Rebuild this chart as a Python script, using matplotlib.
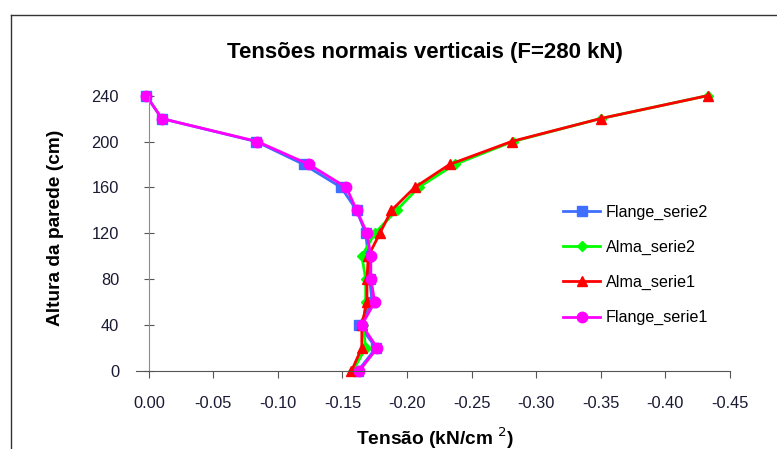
import matplotlib
matplotlib.use("Agg")
import matplotlib.pyplot as plt
from matplotlib.lines import Line2D

plt.rcParams['font.family'] = ['Liberation Sans', 'DejaVu Sans']

# wall height (cm)
altura = [0, 20, 40, 60, 80, 100, 120, 140, 160, 180, 200, 220, 240]

# vertical normal stresses (kN/cm2)
flange_serie2 = [-0.162, -0.176, -0.163, -0.173, -0.171, -0.170, -0.168,
                 -0.161, -0.149, -0.120, -0.083, -0.010, 0.002]
alma_serie2 = [-0.158, -0.168, -0.166, -0.168, -0.168, -0.165, -0.175,
               -0.192, -0.209, -0.237, -0.282, -0.350, -0.433]
alma_serie1 = [-0.157, -0.165, -0.165, -0.169, -0.169, -0.170, -0.179,
               -0.188, -0.206, -0.233, -0.281, -0.350, -0.433]
flange_serie1 = [-0.163, -0.177, -0.165, -0.175, -0.172, -0.172, -0.169,
                 -0.161, -0.153, -0.124, -0.084, -0.010, 0.002]

x_ticks = [0.0, -0.05, -0.10, -0.15, -0.20, -0.25, -0.30, -0.35, -0.40, -0.45]
y_ticks = [0, 40, 80, 120, 160, 200, 240]

fig = plt.figure(figsize=(7.77, 4.49), dpi=100)
ax = fig.add_axes([0.175, 0.174, 0.764, 0.613])

series = [
    ('Flange_serie2', flange_serie2, '#3F6FFF', 's', 6.5),
    ('Alma_serie2', alma_serie2, '#00FF00', 'D', 5),
    ('Alma_serie1', alma_serie1, '#FF0000', '^', 7),
    ('Flange_serie1', flange_serie1, '#FF00FF', 'o', 7.5),
]
for name, vals, col, mk, ms in series:
    ax.plot(vals, altura, color=col, marker=mk, markersize=ms, lw=2,
            label=name, clip_on=False)

ax.set_xlim(0.01, -0.45)
ax.set_ylim(0, 240)
ax.set_xticks(x_ticks)
ax.set_xticklabels(['%.2f' % v if v != 0 else '0.00' for v in x_ticks])
ax.set_yticks(y_ticks)

for s in ['top', 'right']:
    ax.spines[s].set_visible(False)
ax.spines['left'].set_position(('data', 0))
ax.spines['left'].set_color('#8c8c8c')
ax.spines['bottom'].set_color('#555555')
ax.tick_params(axis='x', direction='out', length=5, pad=13, labelsize=11.8,
               colors='#555555', labelcolor='#1a1a33')
ax.tick_params(axis='y', direction='inout', length=7, pad=18, labelsize=11.8,
               colors='#555555', labelcolor='#1a1a33')

fig.text(0.547, 0.882, 'Tensões normais verticais (F=280 kN)', ha='center',
         va='center', fontsize=16, fontweight='bold')
fig.text(0.071, 0.492, 'Altura da parede (cm)', rotation=90, ha='center',
         va='center', fontsize=13.8, fontweight='bold')
fig.text(0.56, 0.025, 'Tensão (kN/cm $^{2}$)', ha='center', va='center',
         fontsize=13.8, fontweight='bold')

ax.legend(loc='center left', bbox_to_anchor=(0.706, 0.385), frameon=False,
          fontsize=11.6, handlelength=2.3, labelspacing=1.25, borderpad=0,
          handletextpad=0.35)

# chart area border (cut off on the right and bottom)
fig.add_artist(Line2D([11 / 777, 11 / 777], [0, 1 - 15 / 449],
                      transform=fig.transFigure, color='#333333', lw=1))
fig.add_artist(Line2D([11 / 777, 1], [1 - 15 / 449, 1 - 15 / 449],
                      transform=fig.transFigure, color='#333333', lw=1))

fig.savefig('out.png', dpi=100)
